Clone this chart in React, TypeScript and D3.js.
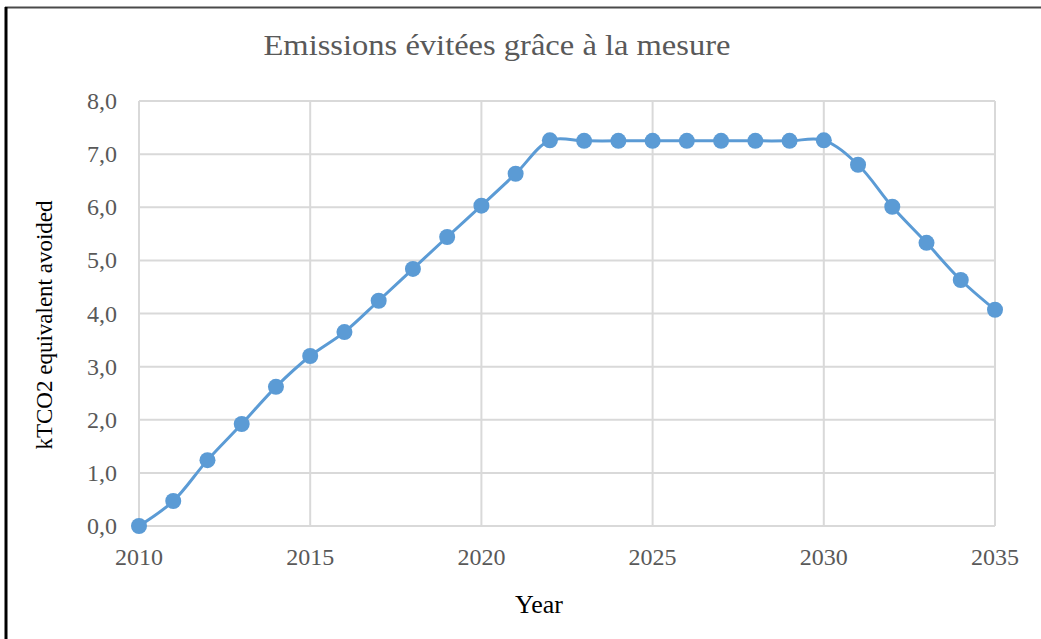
import React from "react";
import * as d3 from "d3";

const years = [2010, 2011, 2012, 2013, 2014, 2015, 2016, 2017, 2018, 2019, 2020, 2021, 2022, 2023, 2024, 2025, 2026, 2027, 2028, 2029, 2030, 2031, 2032, 2033, 2034, 2035];
const avoided = [0.0, 0.47, 1.24, 1.92, 2.62, 3.2, 3.65, 4.24, 4.84, 5.44, 6.03, 6.63, 7.26, 7.25, 7.25, 7.25, 7.25, 7.25, 7.25, 7.25, 7.26, 6.8, 6.01, 5.33, 4.63, 4.07];
const xTicks = [2010, 2015, 2020, 2025, 2030, 2035];
const yTicks = [0, 1, 2, 3, 4, 5, 6, 7, 8];

const title = "Emissions évitées grâce à la mesure";
const yLabel = "kTCO2 equivalent avoided";
const xLabel = "Year";

export default function App() {
  const W = 1041, H = 639;
  const x = d3.scaleLinear().domain([2010, 2035]).range([139, 995]);
  const y = d3.scaleLinear().domain([0, 8]).range([526, 101]);
  const pts = years.map((yr, i) => [x(yr), y(avoided[i])] as [number, number]);
  const line = d3.line().curve(d3.curveCatmullRom.alpha(0.5))(pts) || "";
  const fmt = (v: number) => v.toFixed(1).replace(".", ",");
  const font = "'Liberation Serif', 'Times New Roman', serif";
  return (
    <svg width={W} height={H} style={{ position: "absolute", left: 0, top: 0, background: "#fff" }}>
      <rect x={0} y={0} width={W} height={H} fill="#fff" />
      <line x1={5} x2={W} y1={7.5} y2={7.5} stroke="#4a4a4a" strokeWidth={2} />
      <line x1={6} x2={6} y1={7} y2={H} stroke="#000" strokeWidth={3} />
      <text x={497} y={55} textAnchor="middle" fill="#595959" fontFamily={font} fontSize={29} textLength={467} lengthAdjust="spacingAndGlyphs">{title}</text>
      {yTicks.map(t => (
        <line key={"h" + t} x1={139} x2={995} y1={y(t)} y2={y(t)} stroke="#d9d9d9" strokeWidth={2} />
      ))}
      {xTicks.map(t => (
        <line key={"v" + t} x1={x(t)} x2={x(t)} y1={101} y2={526} stroke="#d9d9d9" strokeWidth={2} />
      ))}
      {yTicks.map(t => (
        <text key={"yl" + t} x={117} y={y(t) + 8} textAnchor="end" fill="#595959" fontFamily={font} fontSize={24}>{fmt(t)}</text>
      ))}
      {xTicks.map(t => (
        <text key={"xl" + t} x={x(t)} y={565} textAnchor="middle" fill="#595959" fontFamily={font} fontSize={24}>{t}</text>
      ))}
      <path d={line} fill="none" stroke="#5b9bd5" strokeWidth={3} />
      {pts.map((p, i) => (
        <circle key={i} cx={p[0]} cy={p[1]} r={8} fill="#5b9bd5" />
      ))}
      <text transform={`translate(52,325) rotate(-90)`} textAnchor="middle" fill="#000" fontFamily={font} fontSize={23}>{yLabel}</text>
      <text x={539} y={613} textAnchor="middle" fill="#000" fontFamily={font} fontSize={26}>{xLabel}</text>
    </svg>
  );
}
